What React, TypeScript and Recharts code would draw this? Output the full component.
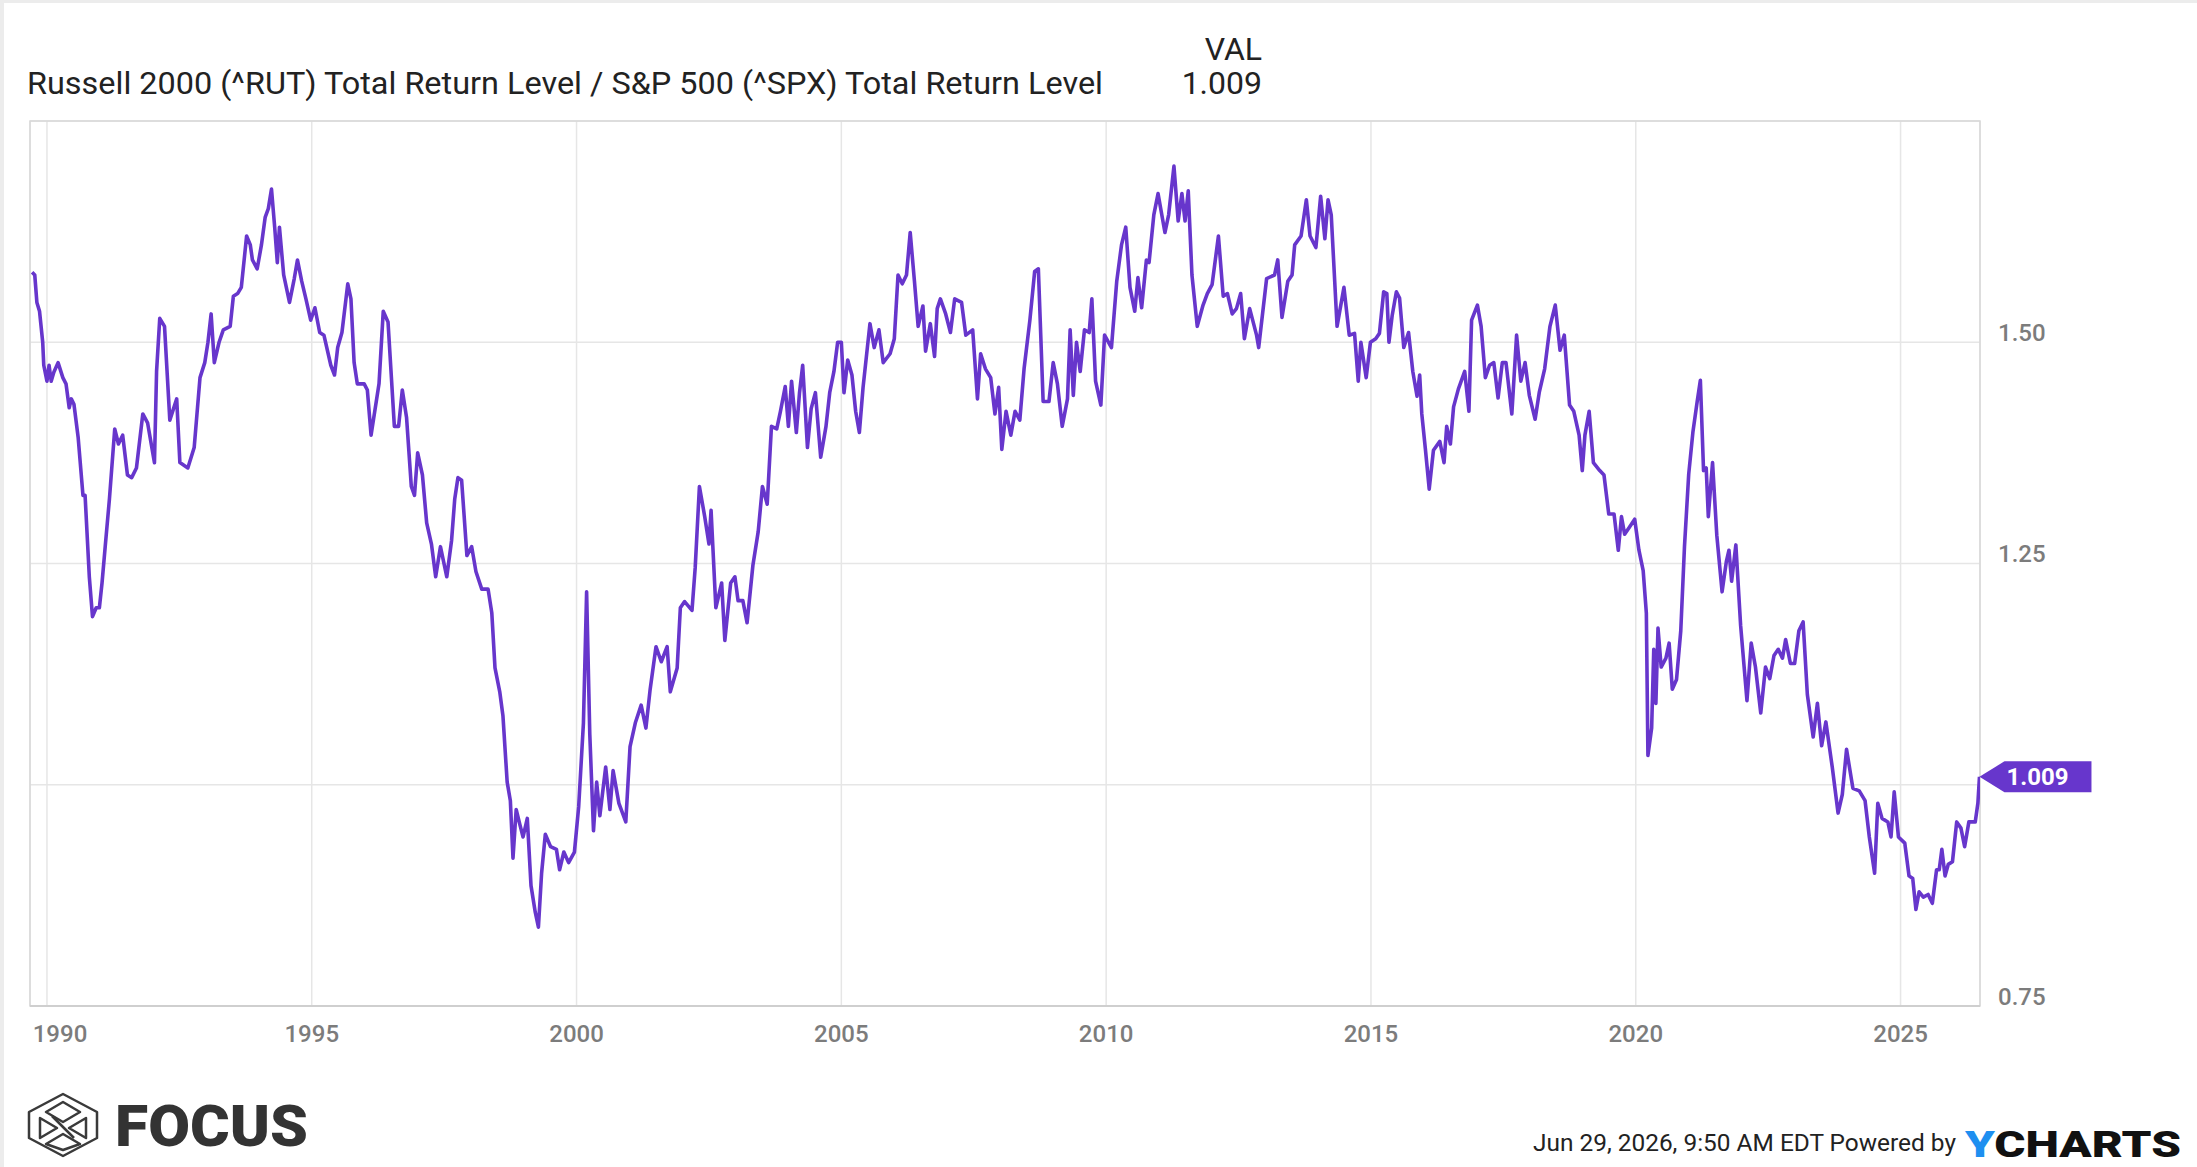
import React from 'react';
import {
  LineChart,
  Line,
  XAxis,
  YAxis,
  CartesianGrid,
  ReferenceArea,
  ReferenceDot,
} from 'recharts';

// readings: decimal year, RUT/SPX total return ratio
const years = [
  1989.72, 1989.77, 1989.81, 1989.86, 1989.92, 1989.94, 1990.0, 1990.04, 1990.08, 1990.13,
  1990.21, 1990.3, 1990.36, 1990.42, 1990.46, 1990.51, 1990.59, 1990.68, 1990.72, 1990.8,
  1990.86, 1990.93, 1990.99, 1991.04, 1991.1, 1991.18, 1991.28, 1991.35, 1991.43, 1991.52,
  1991.6, 1991.69, 1991.81, 1991.9, 1992.03, 1992.07, 1992.13, 1992.22, 1992.32, 1992.45,
  1992.51, 1992.66, 1992.78, 1992.89, 1992.98, 1993.04, 1993.1, 1993.16, 1993.25, 1993.33,
  1993.46, 1993.52, 1993.6, 1993.67, 1993.77, 1993.84, 1993.88, 1993.97, 1994.05, 1994.12,
  1994.18, 1994.24, 1994.3, 1994.35, 1994.39, 1994.47, 1994.58, 1994.67, 1994.73, 1994.81,
  1994.89, 1994.98, 1995.06, 1995.15, 1995.23, 1995.36, 1995.43, 1995.49, 1995.57, 1995.68,
  1995.74, 1995.8, 1995.86, 1995.99, 1996.05, 1996.12, 1996.27, 1996.35, 1996.44, 1996.56,
  1996.64, 1996.71, 1996.79, 1996.88, 1996.94, 1997.0, 1997.09, 1997.17, 1997.26, 1997.34,
  1997.43, 1997.55, 1997.64, 1997.7, 1997.76, 1997.83, 1997.93, 1998.02, 1998.1, 1998.21,
  1998.33, 1998.4, 1998.46, 1998.55, 1998.61, 1998.69, 1998.75, 1998.8, 1998.86, 1998.93,
  1998.99, 1999.07, 1999.14, 1999.22, 1999.28, 1999.34, 1999.41, 1999.51, 1999.62, 1999.68,
  1999.76, 1999.85, 1999.96, 2000.04, 2000.13, 2000.19, 2000.25, 2000.32, 2000.38, 2000.44,
  2000.55, 2000.63, 2000.69, 2000.8, 2000.93, 2001.01, 2001.11, 2001.22, 2001.31, 2001.39,
  2001.5, 2001.6, 2001.71, 2001.77, 2001.9, 2001.96, 2002.04, 2002.18, 2002.24, 2002.32,
  2002.42, 2002.5, 2002.54, 2002.63, 2002.74, 2002.8, 2002.91, 2002.99, 2003.05, 2003.14,
  2003.22, 2003.33, 2003.43, 2003.51, 2003.6, 2003.68, 2003.78, 2003.85, 2003.94, 2004.0,
  2004.06, 2004.15, 2004.21, 2004.27, 2004.36, 2004.43, 2004.51, 2004.61, 2004.71, 2004.78,
  2004.86, 2004.93, 2005.0, 2005.05, 2005.12, 2005.2, 2005.27, 2005.34, 2005.41, 2005.54,
  2005.62, 2005.71, 2005.79, 2005.92, 2006.0, 2006.07, 2006.15, 2006.23, 2006.3, 2006.38,
  2006.45, 2006.54, 2006.59, 2006.68, 2006.76, 2006.81, 2006.87, 2006.97, 2007.06, 2007.14,
  2007.27, 2007.35, 2007.48, 2007.57, 2007.63, 2007.72, 2007.82, 2007.9, 2007.97, 2008.03,
  2008.11, 2008.2, 2008.28, 2008.37, 2008.45, 2008.56, 2008.65, 2008.72, 2008.81, 2008.92,
  2009.0, 2009.08, 2009.17, 2009.27, 2009.32, 2009.38, 2009.44, 2009.51, 2009.59, 2009.68,
  2009.73, 2009.8, 2009.9, 2009.97, 2010.1, 2010.2, 2010.29, 2010.37, 2010.45, 2010.54,
  2010.6, 2010.67, 2010.76, 2010.81, 2010.9, 2010.98, 2011.11, 2011.18, 2011.28, 2011.36,
  2011.43, 2011.49, 2011.55, 2011.62, 2011.72, 2011.83, 2011.91, 2012.0, 2012.12, 2012.21,
  2012.29, 2012.38, 2012.46, 2012.54, 2012.61, 2012.71, 2012.84, 2012.88, 2013.03, 2013.18,
  2013.24, 2013.32, 2013.43, 2013.51, 2013.56, 2013.68, 2013.78, 2013.85, 2013.96, 2014.05,
  2014.13, 2014.19, 2014.25, 2014.36, 2014.49, 2014.59, 2014.69, 2014.76, 2014.81, 2014.91,
  2014.99, 2015.09, 2015.16, 2015.24, 2015.3, 2015.34, 2015.4, 2015.48, 2015.54, 2015.62,
  2015.71, 2015.79, 2015.87, 2015.92, 2015.96, 2016.03, 2016.1, 2016.18, 2016.3, 2016.38,
  2016.43, 2016.5, 2016.56, 2016.65, 2016.77, 2016.85, 2016.9, 2017.01, 2017.08, 2017.16,
  2017.24, 2017.32, 2017.4, 2017.48, 2017.55, 2017.66, 2017.75, 2017.83, 2017.91, 2017.99,
  2018.1, 2018.18, 2018.28, 2018.38, 2018.48, 2018.57, 2018.65, 2018.75, 2018.83, 2018.93,
  2018.99, 2019.04, 2019.12, 2019.2, 2019.32, 2019.4, 2019.49, 2019.59, 2019.67, 2019.73,
  2019.79, 2019.87, 2019.98, 2020.06, 2020.14, 2020.2, 2020.23, 2020.3, 2020.34, 2020.38,
  2020.42, 2020.48, 2020.57, 2020.63, 2020.69, 2020.77, 2020.85, 2020.92, 2021.0, 2021.08,
  2021.16, 2021.22, 2021.28, 2021.33, 2021.37, 2021.45, 2021.53, 2021.63, 2021.71, 2021.76,
  2021.81, 2021.89, 2021.98, 2022.1, 2022.18, 2022.26, 2022.36, 2022.45, 2022.53, 2022.61,
  2022.69, 2022.77, 2022.83, 2022.92, 2023.0, 2023.08, 2023.16, 2023.24, 2023.35, 2023.43,
  2023.51, 2023.59, 2023.71, 2023.82, 2023.9, 2023.98, 2024.1, 2024.22, 2024.33, 2024.41,
  2024.51, 2024.57, 2024.65, 2024.76, 2024.82, 2024.88, 2024.96, 2025.08, 2025.16, 2025.23,
  2025.29, 2025.35, 2025.43, 2025.52, 2025.6, 2025.68, 2025.73, 2025.78, 2025.84, 2025.9,
  2025.98, 2026.06, 2026.14, 2026.21, 2026.29, 2026.41, 2026.46, 2026.49,
];

const ratio = [
  1.579, 1.576, 1.545, 1.535, 1.5, 1.474, 1.456, 1.474, 1.456, 1.466,
  1.477, 1.46, 1.453, 1.426, 1.436, 1.43, 1.392, 1.327, 1.327, 1.235,
  1.19, 1.2, 1.2, 1.228, 1.269, 1.323, 1.402, 1.385, 1.395, 1.35,
  1.347, 1.358, 1.419, 1.409, 1.364, 1.467, 1.527, 1.518, 1.412, 1.436,
  1.364, 1.358, 1.381, 1.46, 1.477, 1.5, 1.532, 1.477, 1.5, 1.514,
  1.518, 1.552, 1.555, 1.562, 1.62, 1.61, 1.593, 1.583, 1.61, 1.641,
  1.651, 1.673, 1.63, 1.59, 1.63, 1.576, 1.545, 1.572, 1.593, 1.569,
  1.549, 1.525, 1.539, 1.511, 1.508, 1.474, 1.463, 1.494, 1.511, 1.566,
  1.549, 1.477, 1.453, 1.453, 1.446, 1.395, 1.453, 1.535, 1.523, 1.405,
  1.405, 1.446, 1.415, 1.337, 1.327, 1.375, 1.35, 1.296, 1.272, 1.235,
  1.269, 1.235, 1.276, 1.323, 1.347, 1.344, 1.259, 1.269, 1.241, 1.221,
  1.221, 1.194, 1.132, 1.105, 1.078, 1.003, 0.982, 0.917, 0.972, 0.955,
  0.941, 0.962, 0.886, 0.856, 0.839, 0.9, 0.944, 0.93, 0.927, 0.904,
  0.924, 0.912, 0.924, 0.975, 1.07, 1.218, 1.057, 0.948, 1.003, 0.965,
  1.02, 0.972, 1.016, 0.979, 0.958, 1.043, 1.07, 1.09, 1.064, 1.108,
  1.156, 1.139, 1.156, 1.105, 1.132, 1.2, 1.207, 1.197, 1.245, 1.337,
  1.303, 1.272, 1.31, 1.2, 1.228, 1.163, 1.228, 1.235, 1.208, 1.208,
  1.183, 1.248, 1.286, 1.337, 1.317, 1.405, 1.402, 1.422, 1.45, 1.405,
  1.456, 1.398, 1.443, 1.474, 1.381, 1.425, 1.443, 1.37, 1.405, 1.443,
  1.467, 1.5, 1.5, 1.443, 1.48, 1.463, 1.422, 1.398, 1.449, 1.521,
  1.494, 1.514, 1.477, 1.487, 1.504, 1.576, 1.566, 1.576, 1.624, 1.569,
  1.518, 1.541, 1.49, 1.521, 1.484, 1.538, 1.549, 1.532, 1.511, 1.549,
  1.545, 1.508, 1.514, 1.436, 1.487, 1.47, 1.46, 1.419, 1.449, 1.379,
  1.422, 1.395, 1.422, 1.412, 1.47, 1.525, 1.58, 1.583, 1.433, 1.433,
  1.477, 1.453, 1.405, 1.436, 1.514, 1.44, 1.5, 1.467, 1.514, 1.511,
  1.549, 1.456, 1.429, 1.508, 1.494, 1.569, 1.61, 1.63, 1.562, 1.535,
  1.573, 1.539, 1.593, 1.59, 1.644, 1.668, 1.624, 1.644, 1.699, 1.637,
  1.668, 1.637, 1.671, 1.576, 1.518, 1.542, 1.555, 1.565, 1.62, 1.552,
  1.555, 1.532, 1.538, 1.555, 1.504, 1.538, 1.508, 1.494, 1.572, 1.576,
  1.593, 1.528, 1.569, 1.576, 1.61, 1.62, 1.661, 1.62, 1.607, 1.665,
  1.617, 1.661, 1.644, 1.518, 1.562, 1.508, 1.51, 1.456, 1.5, 1.46,
  1.5, 1.504, 1.51, 1.557, 1.555, 1.5, 1.53, 1.557, 1.55, 1.494,
  1.511, 1.467, 1.439, 1.463, 1.419, 1.378, 1.334, 1.378, 1.388, 1.364,
  1.405, 1.385, 1.427, 1.447, 1.467, 1.422, 1.525, 1.542, 1.518, 1.46,
  1.474, 1.477, 1.437, 1.477, 1.477, 1.419, 1.508, 1.456, 1.477, 1.44,
  1.413, 1.444, 1.47, 1.518, 1.542, 1.491, 1.508, 1.429, 1.422, 1.395,
  1.355, 1.395, 1.422, 1.364, 1.355, 1.35, 1.306, 1.306, 1.265, 1.303,
  1.283, 1.29, 1.3, 1.265, 1.242, 1.194, 1.033, 1.064, 1.153, 1.092,
  1.177, 1.133, 1.143, 1.16, 1.108, 1.119, 1.174, 1.269, 1.351, 1.399,
  1.433, 1.457, 1.355, 1.358, 1.303, 1.364, 1.282, 1.218, 1.252, 1.265,
  1.23, 1.271, 1.18, 1.095, 1.16, 1.133, 1.081, 1.133, 1.12, 1.146,
  1.153, 1.143, 1.164, 1.137, 1.137, 1.174, 1.184, 1.102, 1.054, 1.092,
  1.044, 1.071, 1.02, 0.968, 0.989, 1.04, 0.996, 0.993, 0.982, 0.941,
  0.9, 0.979, 0.962, 0.958, 0.941, 0.992, 0.941, 0.934, 0.897, 0.894,
  0.859, 0.879, 0.873, 0.876, 0.866, 0.904, 0.904, 0.927, 0.897, 0.91,
  0.913, 0.958, 0.951, 0.93, 0.958, 0.958, 0.979, 1.009,
];

const xTicks = [1990, 1995, 2000, 2005, 2010, 2015, 2020, 2025];
const yTicks = [0.75, 1.0, 1.25, 1.5, 1.75];
const yLabelled = [0.75, 1.25, 1.5];

const seriesName =
  'Russell 2000 (^RUT) Total Return Level / S&P 500 (^SPX) Total Return Level';

const data = years.map((t, i) => ({ t, v: ratio[i] }));
const last = data[data.length - 1];

const PURPLE = '#6736cc';
const FONT = 'Roboto, "Noto Sans", sans-serif';

const YTick = (props: any) => {
  const { x, y, payload } = props;
  if (!yLabelled.includes(payload.value)) return <g />;
  return (
    <text
      x={x + 10}
      y={y - 10}
      dy="0.355em"
      textAnchor="start"
      fontFamily={FONT}
      fontSize={24}
      fontWeight={500}
      fill="#7c7c7c"
    >
      {payload.value.toFixed(2)}
    </text>
  );
};

const XTick = (props: any) => {
  const { x, y, payload } = props;
  return (
    <text
      x={Math.max(x, 60)}
      y={y + 11}
      dy="0.71em"
      textAnchor="middle"
      fontFamily={FONT}
      fontSize={24}
      fontWeight={500}
      fill="#7c7c7c"
    >
      {payload.value}
    </text>
  );
};

const Flag = (props: any) => {
  const { cx, cy } = props;
  const h = 15.5;
  const pts = [
    [cx, cy],
    [cx + 25, cy - h],
    [cx + 112, cy - h],
    [cx + 112, cy + h],
    [cx + 25, cy + h],
  ]
    .map((p) => p.join(','))
    .join(' ');
  return (
    <g>
      <polygon points={pts} fill={PURPLE} />
      <text
        x={cx + 27}
        y={cy}
        dy="0.355em"
        fontFamily={FONT}
        fontSize={24}
        fontWeight={700}
        fill="#fff"
      >
        {last.v.toFixed(3)}
      </text>
    </g>
  );
};

const FocusIcon = () => (
  <g fill="none" stroke="#3a3a3a" strokeWidth={2.5} strokeLinejoin="round">
    <polygon points="63,1094 97,1112 97,1138 63,1156 29,1138 29,1112" />
    <polygon points="63,1102 80,1112 63,1122 46,1112" />
    <polygon points="40,1118 57,1128 40,1138" />
    <polygon points="86,1118 69,1128 86,1138" />
    <polygon points="63,1134 80,1144 63,1150 46,1144" />
    <line x1="52" y1="1116" x2="74" y2="1138" />
  </g>
);

export default function App() {
  return (
    <div
      style={{
        position: 'absolute',
        left: 0,
        top: 0,
        width: 2197,
        height: 1167,
        background: '#fff',
        overflow: 'hidden',
      }}
    >
      <LineChart
        width={2197}
        height={1167}
        data={data}
        margin={{ top: 121, right: 97, bottom: 111, left: 30 }}
      >
        <CartesianGrid stroke="#e6e6e6" strokeWidth={1.5} />
        <XAxis
          type="number"
          dataKey="t"
          domain={[1989.68, 2026.5]}
          ticks={xTicks}
          height={50}
          tickLine={false}
          axisLine={{ stroke: '#cfcfcf', strokeWidth: 2 }}
          tick={<XTick />}
          interval={0}
          allowDataOverflow
        />
        <YAxis
          orientation="right"
          domain={[0.75, 1.75]}
          ticks={yTicks}
          width={120}
          tickLine={false}
          axisLine={false}
          tick={<YTick />}
          interval={0}
          allowDataOverflow
        />
        <ReferenceArea
          x1={1989.68}
          x2={2026.5}
          y1={0.75}
          y2={1.75}
          fill="none"
          stroke="#d8d8d8"
          strokeWidth={1.5}
        />
        <Line
          type="linear"
          dataKey="v"
          stroke={PURPLE}
          strokeWidth={3.6}
          strokeLinejoin="round"
          dot={false}
          activeDot={false}
          isAnimationActive={false}
        />
        <ReferenceDot x={last.t} y={last.v} shape={<Flag />} />
      </LineChart>

      <svg
        width={2197}
        height={1167}
        style={{ position: 'absolute', left: 0, top: 0, pointerEvents: 'none' }}
      >
        <rect x={0} y={0} width={2197} height={3} fill="#ececec" />
        <rect x={0} y={0} width={4} height={1167} fill="#ececec" />
        <text x={1262} y={60} textAnchor="end" fontFamily={FONT} fontSize={32} fill="#222">
          VAL
        </text>
        <text
          x={27}
          y={94}
          fontFamily={FONT}
          fontSize={32}
          fill="#222"
          textLength={1076}
          lengthAdjust="spacingAndGlyphs"
        >
          {seriesName}
        </text>
        <text x={1262} y={94} textAnchor="end" fontFamily={FONT} fontSize={32} fill="#222">
          {last.v.toFixed(3)}
        </text>

        <FocusIcon />
        <text
          x={115}
          y={1146}
          fontFamily={FONT}
          fontSize={58}
          fontWeight={900}
          fill="#333"
          textLength={193}
          lengthAdjust="spacingAndGlyphs"
        >
          FOCUS
        </text>

        <text
          x={1533}
          y={1151}
          fontFamily={FONT}
          fontSize={24.5}
          fill="#222"
          textLength={423}
          lengthAdjust="spacingAndGlyphs"
        >
          Jun 29, 2026, 9:50 AM EDT Powered by
        </text>
        <text
          x={1965}
          y={1157}
          fontFamily={FONT}
          fontSize={37}
          fontWeight={900}
          fill="#111"
          textLength={216}
          lengthAdjust="spacingAndGlyphs"
        >
          <tspan fill="#1e8ff0">Y</tspan>CHARTS
        </text>
      </svg>
    </div>
  );
}
